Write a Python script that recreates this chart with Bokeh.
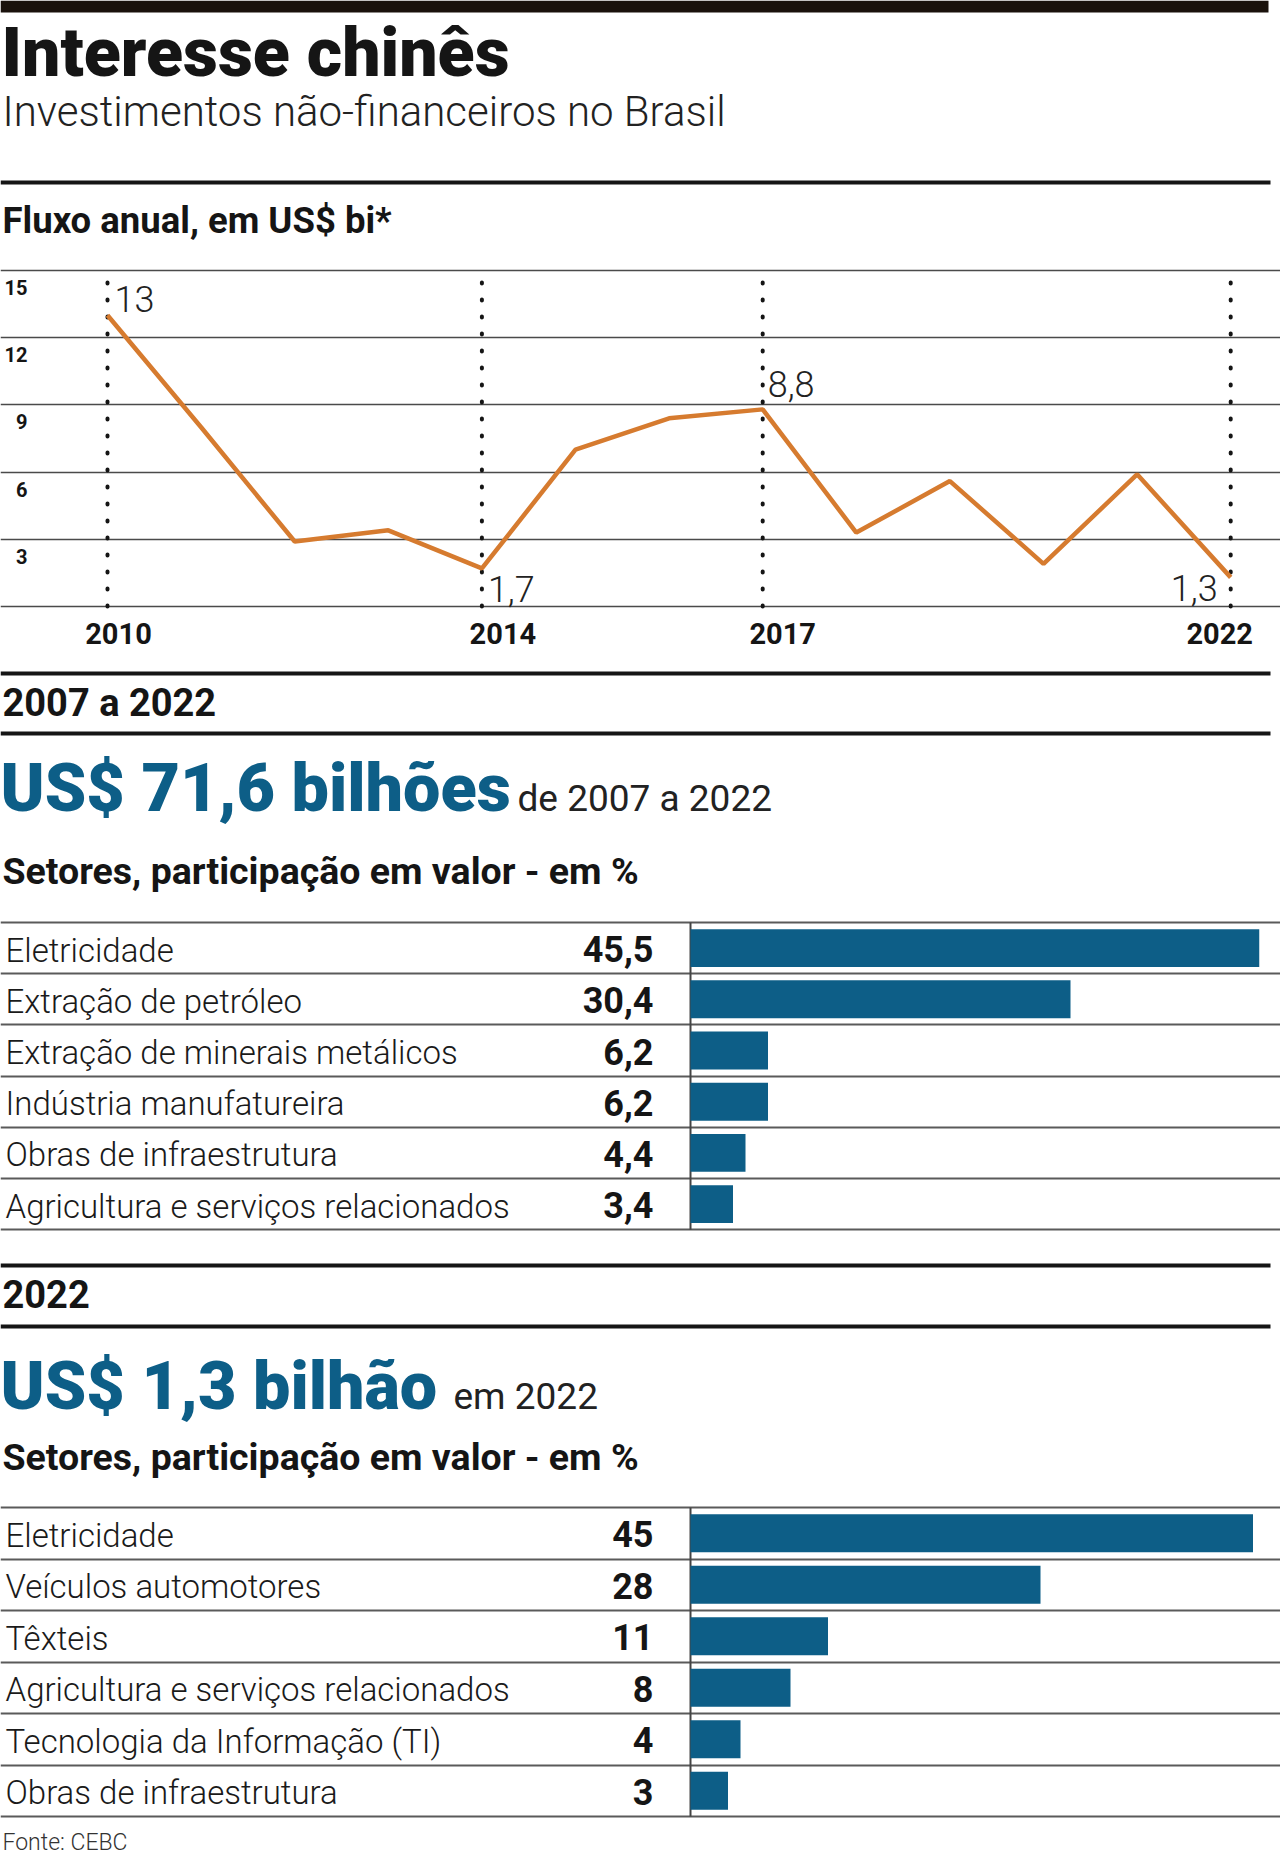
from bokeh.plotting import figure
from bokeh.layouts import column
from bokeh.models import Range1d, Label, BoxAnnotation, FixedTicker
from bokeh.core.properties import value
from bokeh.embed import file_html
from bokeh.resources import INLINE

# ---------------- data ----------------
years = [2010, 2011, 2012, 2013, 2014, 2015, 2016, 2017, 2018, 2019, 2020, 2021, 2022]
flows = [13.0, 8.0, 2.9, 3.4, 1.7, 7.0, 8.4, 8.8, 3.3, 5.6, 1.9, 5.9, 1.3]
marked_years = [2010, 2014, 2017, 2022]
marked_labels = ["13", "1,7", "8,8", "1,3"]
grid_values = [0, 3, 6, 9, 12, 15]
y_ticks = [3, 6, 9, 12, 15]
y_tick_labels = ["3", "6", "9", "12", "15"]

sectors_total = ["Eletricidade", "Extração de petróleo", "Extração de minerais metálicos",
                 "Indústria manufatureira", "Obras de infraestrutura",
                 "Agricultura e serviços relacionados"]
shares_total = [45.5, 30.4, 6.2, 6.2, 4.4, 3.4]
share_labels_total = ["45,5", "30,4", "6,2", "6,2", "4,4", "3,4"]

sectors_2022 = ["Eletricidade", "Veículos automotores", "Têxteis",
                "Agricultura e serviços relacionados", "Tecnologia da Informação (TI)",
                "Obras de infraestrutura"]
shares_2022 = [45, 28, 11, 8, 4, 3]
share_labels_2022 = ["45", "28", "11", "8", "4", "3"]

# ---------------- style ----------------
FONT = "Roboto"
FONT_LIGHT = "Roboto Light, Roboto"
FONT_HEAVY = "Roboto Black, Roboto"
INK = "#151515"
BLUE = "#0d5e87"
ORANGE = "#d67b2f"
GRID = "#4a4a4a"
W = 1280
REF_W = 1280
SHIFT = 0.36  # baseline correction (fraction of font size)


def base_fig(height, x_range, y_range):
    p = figure(width=W, height=height, x_range=x_range, y_range=y_range,
               output_backend="svg", toolbar_location=None, min_border=0,
               outline_line_color=None, background_fill_color="white",
               border_fill_color="white")
    p.xaxis.visible = False
    p.yaxis.visible = False
    p.xgrid.visible = False
    p.ygrid.visible = False
    return p


def deco_fig(ref_top, ref_bottom):
    return base_fig(ref_bottom - ref_top, Range1d(0, REF_W), Range1d(ref_bottom, ref_top))


def rule(p, y_top, y_bot, right=1270, color=INK):
    p.add_layout(BoxAnnotation(left=0, right=right, top=y_top, bottom=y_bot,
                               fill_color=color, fill_alpha=1, line_alpha=0,
                               level="underlay"))


def label(p, x, y, text, size, bold=False, color=INK, font=FONT):
    p.add_layout(Label(x=x, y=y - SHIFT * size, text=text, text_font=font,
                       text_font_size=f"{size}px",
                       text_font_style="bold" if bold else "normal",
                       text_color=color, text_baseline="alphabetic"))


# ---------------- header ----------------
head = deco_fig(0, 250)
rule(head, 0, 12, right=1268, color="#1a120c")
label(head, 1, 77, "Interesse chinês", 68, bold=True, font=FONT_HEAVY)
label(head, 2, 126, "Investimentos não-financeiros no Brasil", 42, color="#222", font=FONT_LIGHT)
rule(head, 180, 184)
label(head, 2, 233, "Fluxo anual, em US$ bi*", 36.5, bold=True)

# ---------------- line chart ----------------
px_per_year = 93.6
x_2010 = 107
px_per_unit = 22.4
y0_ref, top_ref, bot_ref = 606, 250, 660
x_start = years[0] - x_2010 / px_per_year
lc = base_fig(bot_ref - top_ref,
              Range1d(x_start, x_start + REF_W / px_per_year),
              Range1d(-(bot_ref - y0_ref) / px_per_unit, (y0_ref - top_ref) / px_per_unit))
lc.ygrid.visible = True
lc.ygrid.ticker = FixedTicker(ticks=grid_values)
lc.ygrid.grid_line_color = GRID
lc.ygrid.grid_line_width = 1.6

lc.segment(x0=marked_years, y0=[grid_values[0]] * len(marked_years),
           x1=marked_years, y1=[grid_values[-1]] * len(marked_years),
           line_color=INK, line_width=4, line_dash="1 16", line_cap="round")

lc.line(years, flows, line_color=ORANGE, line_width=4.5)

marked_values = [flows[years.index(y)] for y in marked_years]
lab_size = 36
lc.text(x=marked_years[:3], y=marked_values[:3], text=marked_labels[:3],
        x_offset=[7, 6, 5], y_offset=[-16, 21, -25],
        text_font=value(FONT_LIGHT), text_font_size=f"{lab_size}px", text_color="#222",
        text_align="left", text_baseline="alphabetic")
lc.text(x=marked_years[3:], y=marked_values[3:], text=marked_labels[3:],
        x_offset=-13, y_offset=11,
        text_font=value(FONT_LIGHT), text_font_size=f"{lab_size}px", text_color="#222",
        text_align="right", text_baseline="alphabetic")

lc.text(x=[x_start] * len(y_ticks), y=y_ticks, text=y_tick_labels,
        x_offset=27, y_offset=17, text_font=value(FONT), text_font_size="20px",
        text_font_style="bold", text_color=INK, text_align="right",
        text_baseline="alphabetic")

lc.text(x=marked_years, y=[grid_values[0]] * len(marked_years),
        text=[str(y) for y in marked_years],
        x_offset=[11, 21, 20, -11], y_offset=27,
        text_font=value(FONT), text_font_size="29px", text_font_style="bold",
        text_color=INK, text_align="center", text_baseline="alphabetic")

# ---------------- section 1 header ----------------
s1 = deco_fig(660, 915)
rule(s1, 671, 675)
label(s1, 2, 716, "2007 a 2022", 38, bold=True)
rule(s1, 731, 735)
label(s1, 0, 811, "US$ 71,6 bilhões", 66.5, bold=True, color=BLUE, font=FONT_HEAVY)
label(s1, 517, 811, "de 2007 a 2022", 37, color="#222")
label(s1, 2, 884, "Setores, participação em valor - em %", 37.5, bold=True)


# ---------------- bar tables ----------------
def bar_table(ref_top, ref_bottom, table_top, row_h, sectors, shares, share_labels):
    n = len(sectors)
    zero_ref = 690
    px_per_pct = 12.5
    idx = list(range(n))
    p = base_fig(ref_bottom - ref_top,
                 Range1d(-zero_ref / px_per_pct, (REF_W - zero_ref) / px_per_pct),
                 Range1d(-0.5 + (ref_bottom - table_top) / row_h,
                         -0.5 - (table_top - ref_top) / row_h))
    p.ygrid.visible = True
    p.ygrid.ticker = FixedTicker(ticks=[i - 0.5 for i in range(n + 1)])
    p.ygrid.grid_line_color = "#5a5a5a"
    p.ygrid.grid_line_width = 2
    p.segment(x0=[0], y0=[-0.5], x1=[0], y1=[n - 0.5], line_color="#444", line_width=2)
    p.hbar(y=idx, left=0, right=shares, height=0.74, fill_color=BLUE, line_color=None)
    p.text(x=[p.x_range.start] * n, y=idx, text=sectors, x_offset=5, y_offset=2,
           text_font=value(FONT_LIGHT), text_font_size="33px", text_color="#1a1a1a",
           text_align="left", text_baseline="alphabetic")
    p.text(x=[0] * n, y=idx, text=share_labels, x_offset=-37, y_offset=1,
           text_font=value(FONT), text_font_size="36px", text_font_style="bold",
           text_color=INK, text_align="right", text_baseline="alphabetic")
    return p


t1 = bar_table(915, 1238, 922, 51.2, sectors_total, shares_total, share_labels_total)

# ---------------- section 2 header ----------------
s2 = deco_fig(1238, 1500)
rule(s2, 1263, 1267)
label(s2, 2, 1307, "2022", 38, bold=True)
rule(s2, 1324, 1328)
label(s2, 0, 1409, "US$ 1,3 bilhão", 66.5, bold=True, color=BLUE, font=FONT_HEAVY)
label(s2, 453, 1409, "em 2022", 37, color="#222")
label(s2, 2, 1470, "Setores, participação em valor - em %", 37.5, bold=True)

t2 = bar_table(1500, 1858, 1507, 51.5, sectors_2022, shares_2022, share_labels_2022)
t2.add_layout(Label(x=2, y=16, x_units="screen", y_units="screen", text="Fonte: CEBC",
                    text_font=FONT_LIGHT, text_font_size="23px", text_color="#333",
                    text_baseline="alphabetic"))

page = column(head, lc, s1, t1, s2, t2, spacing=0)
open("out.html", "w").write(file_html(page, INLINE))
